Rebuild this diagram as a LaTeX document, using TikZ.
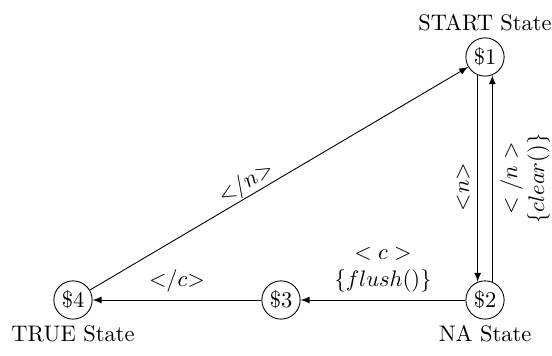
\documentclass[tikz,border=0pt]{standalone}
\usetikzlibrary{arrows}
\begin{document}
\begin{tikzpicture}[x=0.4444pt,y=-0.4444pt,>=latex,
  state/.style={draw,circle,minimum size=17pt,inner sep=0pt},
  edge/.style={->}]
\useasboundingbox (0,0) rectangle (552,356);
\node[state,label={[inner sep=2.5pt]above:START State}] (n1) at (485,57) {\$1};
\node[state,label={[inner sep=2.5pt]below:NA State}] (n2) at (485,300) {\$2};
\node[state] (n3) at (281,300) {\$3};
\node[state,label={[inner sep=2.5pt]below:TRUE State}] (n4) at (73,300) {\$4};
\draw[edge] (n1.248) -- node[pos=0.54,rotate=90,anchor=south] {${<}n{>}$} (n2.112);
\draw[edge] (n2.68) -- node[pos=0.5,rotate=90,anchor=north,align=center] {$</n>$\\$\{clear()\}$} (n1.292);
\draw[edge] (n2) -- node[above,align=center] {$< c >$\\$\{flush()\}$} (n3);
\draw[edge] (n3) -- node[above] {${<}/c{>}$} (n4);
\draw[edge] (n4) -- node[pos=0.43,sloped,above,inner sep=0.5pt] {${<}/n{>}$} (n1);
\end{tikzpicture}
\end{document}
